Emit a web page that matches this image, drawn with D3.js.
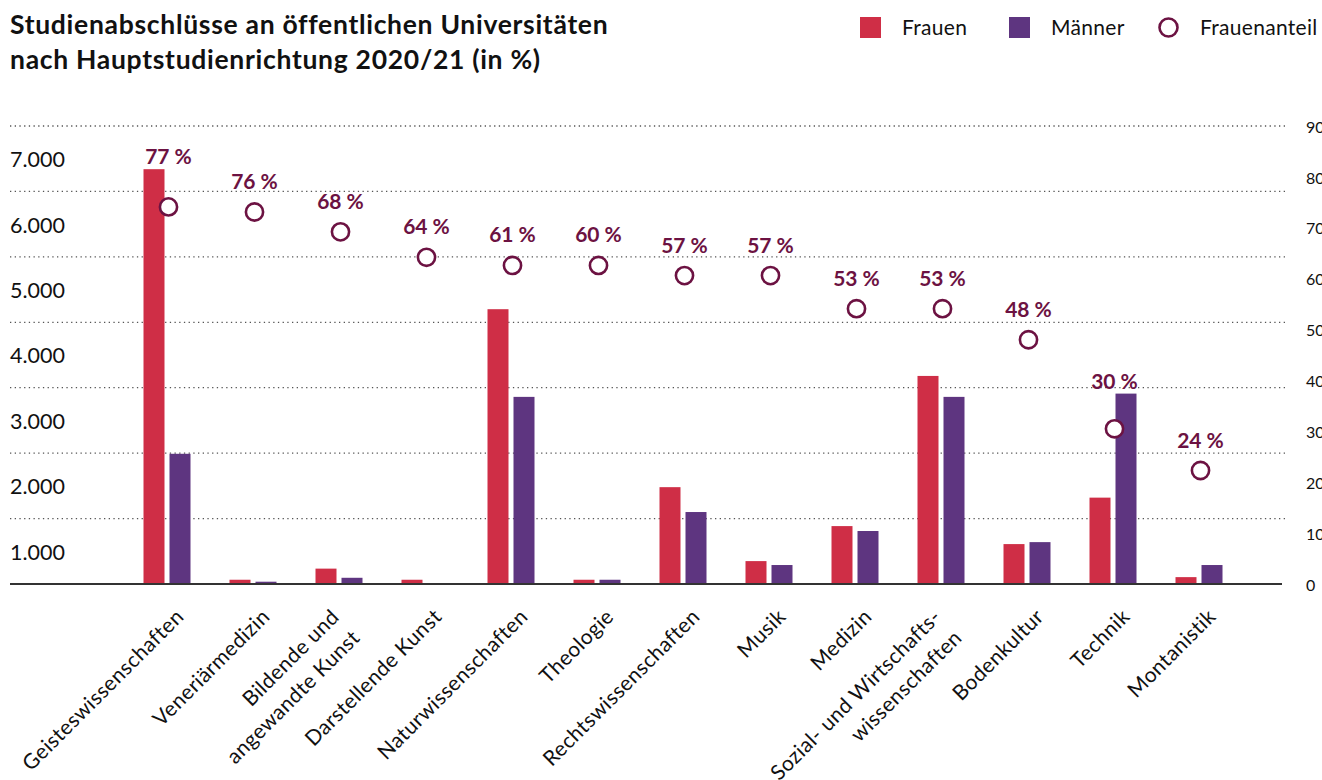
<!DOCTYPE html>
<html>
<head>
<meta charset="utf-8">
<script src="https://cdn.jsdelivr.net/npm/d3@7"></script>
<style>
  body { margin: 0; background: #fff; }
  svg { display: block; font-family: Lato, 'Open Sans', sans-serif; }
</style>
</head>
<body>
<svg id="chart" width="1322" height="780"></svg>
<script>
// categories ("\n" = line break in the axis label)
const categories = [
  'Geisteswissenschaften', 'Veneriärmedizin', 'Bildende und\nangewandte Kunst',
  'Darstellende Kunst', 'Naturwissenschaften', 'Theologie', 'Rechtswissenschaften',
  'Musik', 'Medizin', 'Sozial- und Wirtschafts-\nwissenschaften', 'Bodenkultur',
  'Technik', 'Montanistik'
];
const frauen = [6340, 65, 235, 65, 4200, 65, 1480, 350, 885, 3180, 610, 1320, 105];
const maenner = [1990, 35, 95, 0, 2860, 65, 1100, 290, 810, 2860, 640, 2910, 290];
const frauenanteil = [74.1, 73.1, 69.2, 64.2, 62.6, 62.6, 60.6, 60.6, 54.1, 54.1, 48.0, 30.5, 22.3];
const anteilLabels = [77, 76, 68, 64, 61, 60, 57, 57, 53, 53, 48, 30, 24];
const leftTicks = [1000, 2000, 3000, 4000, 5000, 6000, 7000];
const rightTicks = [0, 10, 20, 30, 40, 50, 60, 70, 80, 90];
const series = ['Frauen', 'Männer'];

const COLORS = { Frauen: '#cf2e46', 'Männer': '#5e3580', anteil: '#6c1242' };
const BASE_Y = 584, TOP_Y = 126;
const GRID = { left: 10, right: 1285 };

const svg = d3.select('#chart');

const x = d3.scaleBand().domain(categories).range([124, 1242]);
const xSub = d3.scaleBand().domain(series).range([-23.5, 23.5]).paddingInner(0.1923);
const yLeft = d3.scaleLinear().domain([0, 7000]).range([BASE_Y, TOP_Y]);
const yRight = d3.scaleLinear().domain([0, 90]).range([BASE_Y, TOP_Y]);
const center = c => x(c) + x.bandwidth() / 2;

// title
const title = svg.append('text')
  .attr('x', 10).attr('y', 34)
  .style('font-size', '26.5px').style('font-weight', 700)
  .style('letter-spacing', '0.7px').attr('fill', '#111');
title.append('tspan').attr('x', 10).text('Studienabschlüsse an öffentlichen Universitäten');
title.append('tspan').attr('x', 10).attr('dy', 35).text('nach Hauptstudienrichtung 2020/21 (in %)');

// legend
const legend = svg.append('g').style('font-size', '21px').style('letter-spacing', '0.3px');
legend.append('rect').attr('x', 860).attr('y', 17).attr('width', 21).attr('height', 21).attr('fill', COLORS.Frauen);
legend.append('text').attr('x', 902).attr('y', 35).attr('fill', '#111').text('Frauen');
legend.append('rect').attr('x', 1009).attr('y', 17).attr('width', 21).attr('height', 21).attr('fill', COLORS['Männer']);
legend.append('text').attr('x', 1051).attr('y', 35).attr('fill', '#111').text('Männer');
legend.append('circle').attr('cx', 1168.5).attr('cy', 27.5).attr('r', 9)
  .attr('fill', '#fff').attr('stroke', COLORS.anteil).attr('stroke-width', 2.6);
legend.append('text').attr('x', 1200).attr('y', 35).attr('fill', '#111').text('Frauenanteil');

// grid lines
svg.append('g').selectAll('line')
  .data(leftTicks)
  .enter().append('line')
  .attr('x1', GRID.left).attr('x2', GRID.right)
  .attr('y1', d => yLeft(d)).attr('y2', d => yLeft(d))
  .attr('stroke', '#555').attr('stroke-width', 1.3)
  .attr('stroke-dasharray', '1.3,3.4');

// left axis (labels sit half a step below their grid line)
const halfStep = (yLeft(0) - yLeft(1000)) / 2;
const leftAxis = d3.axisLeft(yLeft).tickValues(leftTicks).tickSize(0)
  .tickFormat(d => d3.format(',')(d).replace(',', '.'));
svg.append('g')
  .attr('transform', `translate(10, ${halfStep + 1})`)
  .call(leftAxis)
  .call(g => g.select('.domain').remove())
  .call(g => g.selectAll('text')
    .attr('x', 0).attr('text-anchor', 'start')
    .attr('fill', '#111').style('font-size', '21.5px').style('font-family', 'Lato, sans-serif'));

// right axis
const rightAxis = d3.axisRight(yRight).tickValues(rightTicks).tickSize(0);
svg.append('g')
  .attr('transform', 'translate(1306, 1)')
  .call(rightAxis)
  .call(g => g.select('.domain').remove())
  .call(g => g.selectAll('text')
    .attr('x', 0).attr('fill', '#111').style('font-size', '16px').style('font-family', 'Lato, sans-serif'));

// bars
const rows = categories.map((c, i) => ({ c, Frauen: frauen[i], 'Männer': maenner[i] }));
svg.append('g').selectAll('g')
  .data(rows)
  .enter().append('g')
  .attr('transform', d => `translate(${center(d.c)}, 0)`)
  .selectAll('rect')
  .data(d => series.map(s => ({ s, v: d[s] })))
  .enter().append('rect')
  .attr('x', d => xSub(d.s))
  .attr('width', xSub.bandwidth())
  .attr('y', d => yLeft(d.v))
  .attr('height', d => BASE_Y - yLeft(d.v))
  .attr('fill', d => COLORS[d.s]);

// baseline
svg.append('line')
  .attr('x1', GRID.left).attr('x2', 1282)
  .attr('y1', BASE_Y).attr('y2', BASE_Y)
  .attr('stroke', '#333').attr('stroke-width', 2);

// share of women: circles + labels
const shares = categories.map((c, i) => ({
  c, v: frauenanteil[i], label: anteilLabels[i],
  top: yLeft(Math.max(frauen[i], maenner[i]))
}));
const anteil = svg.append('g');
anteil.selectAll('circle')
  .data(shares)
  .enter().append('circle')
  .attr('cx', d => center(d.c) + 1.5)
  .attr('cy', d => yRight(d.v))
  .attr('r', 8.6)
  .attr('fill', '#fff')
  .attr('stroke', COLORS.anteil)
  .attr('stroke-width', 2.6);
anteil.selectAll('text')
  .data(shares)
  .enter().append('text')
  .attr('x', d => center(d.c) + 1.5)
  .attr('y', d => Math.min(yRight(d.v) - 30, d.top - 12) + 7)
  .attr('text-anchor', 'middle')
  .attr('fill', COLORS.anteil)
  .style('font-size', '21px').style('font-weight', 700)
  .text(d => d.label + ' %');

// category labels, rotated
const catLabels = svg.append('g')
  .style('font-size', '21px').style('letter-spacing', '0.4px').attr('fill', '#111');
catLabels.selectAll('text')
  .data(categories)
  .enter().append('text')
  .attr('transform', d => `translate(${center(d) + 18}, 618) rotate(-45)`)
  .attr('text-anchor', 'end')
  .each(function (d) {
    const lines = d.split('\n');
    const t = d3.select(this);
    lines.forEach((line, i) => {
      t.append('tspan')
        .attr('x', lines.length > 1 ? -12 : 0)
        .attr('dy', i === 0 ? (lines.length > 1 ? -0.55 * (lines.length - 1) + 'em' : 0) : '1.4em')
        .text(line);
    });
  });
</script>
</body>
</html>
